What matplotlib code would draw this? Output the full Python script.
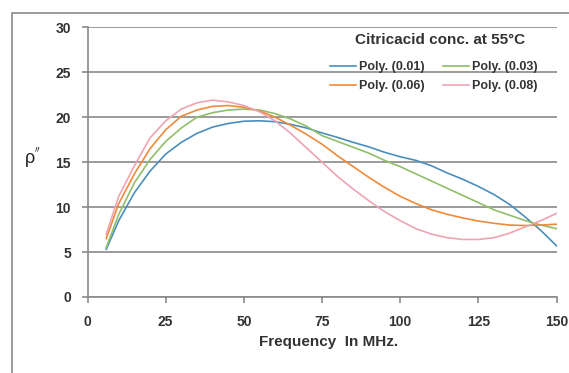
import matplotlib.pyplot as plt
from matplotlib.patches import Rectangle

plt.rcParams['font.family'] = ['Liberation Sans', 'DejaVu Sans']

# frequency samples (MHz)
freq = [6, 10, 15, 20, 25, 30, 35, 40, 45, 50, 55, 60, 65, 70, 75, 80, 85, 90,
        95, 100, 105, 110, 115, 120, 125, 130, 135, 140, 145, 150]

rho_001 = [5.3, 8.5, 11.6, 14.0, 15.9, 17.2, 18.2, 18.9, 19.3, 19.55, 19.6, 19.5,
           19.2, 18.8, 18.25, 17.75, 17.2, 16.7, 16.1, 15.6, 15.2, 14.6, 13.8,
           13.1, 12.3, 11.4, 10.3, 8.9, 7.4, 5.7]
rho_003 = [5.5, 9.2, 12.7, 15.3, 17.3, 18.8, 20.0, 20.5, 20.8, 20.9, 20.8, 20.4,
           19.8, 19.0, 17.95, 17.3, 16.65, 16.0, 15.2, 14.5, 13.7, 12.9, 12.1,
           11.3, 10.5, 9.7, 9.1, 8.5, 8.0, 7.6]
rho_006 = [6.5, 10.4, 13.7, 16.5, 18.6, 20.1, 20.8, 21.2, 21.3, 21.1, 20.7, 20.0,
           19.1, 18.1, 17.0, 15.7, 14.5, 13.3, 12.2, 11.2, 10.4, 9.7, 9.2,
           8.8, 8.45, 8.2, 8.0, 7.95, 8.0, 8.1]
rho_008 = [7.0, 11.2, 14.6, 17.7, 19.6, 20.9, 21.6, 21.9, 21.7, 21.3, 20.6, 19.6,
           18.2, 16.6, 15.0, 13.4, 12.0, 10.7, 9.5, 8.5, 7.6, 7.0, 6.6,
           6.4, 6.4, 6.6, 7.1, 7.8, 8.5, 9.3]

labels = ['Poly. (0.01)', 'Poly. (0.03)', 'Poly. (0.06)', 'Poly. (0.08)']
colors = ['#4a8ebe', '#90bf6a', '#f08a3a', '#eda4b4']

fig = plt.figure(figsize=(5.69, 3.73), dpi=100)
ax = fig.add_axes([87.5 / 569, 1 - 297 / 373, 469 / 569, 269.7 / 373])

lines = []
for ys, label, color in zip([rho_001, rho_003, rho_006, rho_008], labels, colors):
    ln, = ax.plot(freq, ys, color=color, linewidth=1.2, label=label)
    lines.append(ln)

grey = '#8a8a8a'
ax.set_xlim(0, 150)
ax.set_ylim(0, 30)
ax.set_xticks(range(0, 151, 25))
ax.set_yticks(range(0, 31, 5))
ax.yaxis.grid(True, color=grey, linewidth=1.2)
ax.set_axisbelow(True)
for side in ['top', 'right']:
    ax.spines[side].set_visible(False)
for side in ['left', 'bottom']:
    ax.spines[side].set_color(grey)
    ax.spines[side].set_linewidth(1.2)
ax.tick_params(colors=grey, length=4, width=1.2, labelcolor='#333333',
               labelsize=10)
ax.tick_params(axis='y', pad=8)
ax.tick_params(axis='x', pad=9)
for lbl in ax.get_xticklabels() + ax.get_yticklabels():
    lbl.set_fontweight('bold')

fig.text(329 / 569, 1 - 341.7 / 373, 'Frequency  In MHz.',
         ha='center', va='center', fontsize=11, fontweight='bold', color='#333333')
fig.text(33 / 569, 1 - 157 / 373, "ρ$^{''}$", ha='center', va='center',
         fontsize=13, color='#222222')

fig.text(440 / 569, 1 - 40 / 373, 'Citricacid conc. at 55°C', ha='center',
         va='center', fontsize=11, fontweight='bold', color='#333333')
order = [0, 2, 1, 3]
leg = ax.legend([lines[i] for i in order], [labels[i] for i in order], ncol=2,
                frameon=False, loc='upper left',
                bbox_to_anchor=(330 / 569, 1 - 61 / 373),
                bbox_transform=fig.transFigure, borderpad=0, borderaxespad=0,
                handlelength=2.1, handletextpad=0.25, columnspacing=1.4,
                labelspacing=0.55, prop={'size': 9, 'weight': 'bold'})
for t in leg.get_texts():
    t.set_color('#333333')

fig.patches.append(Rectangle((12 / 569, -0.1), 1.2, 1 - 13 / 373 + 0.1,
                             transform=fig.transFigure, fill=False,
                             edgecolor=grey, linewidth=1.2))

plt.savefig('out.png', dpi=100)
